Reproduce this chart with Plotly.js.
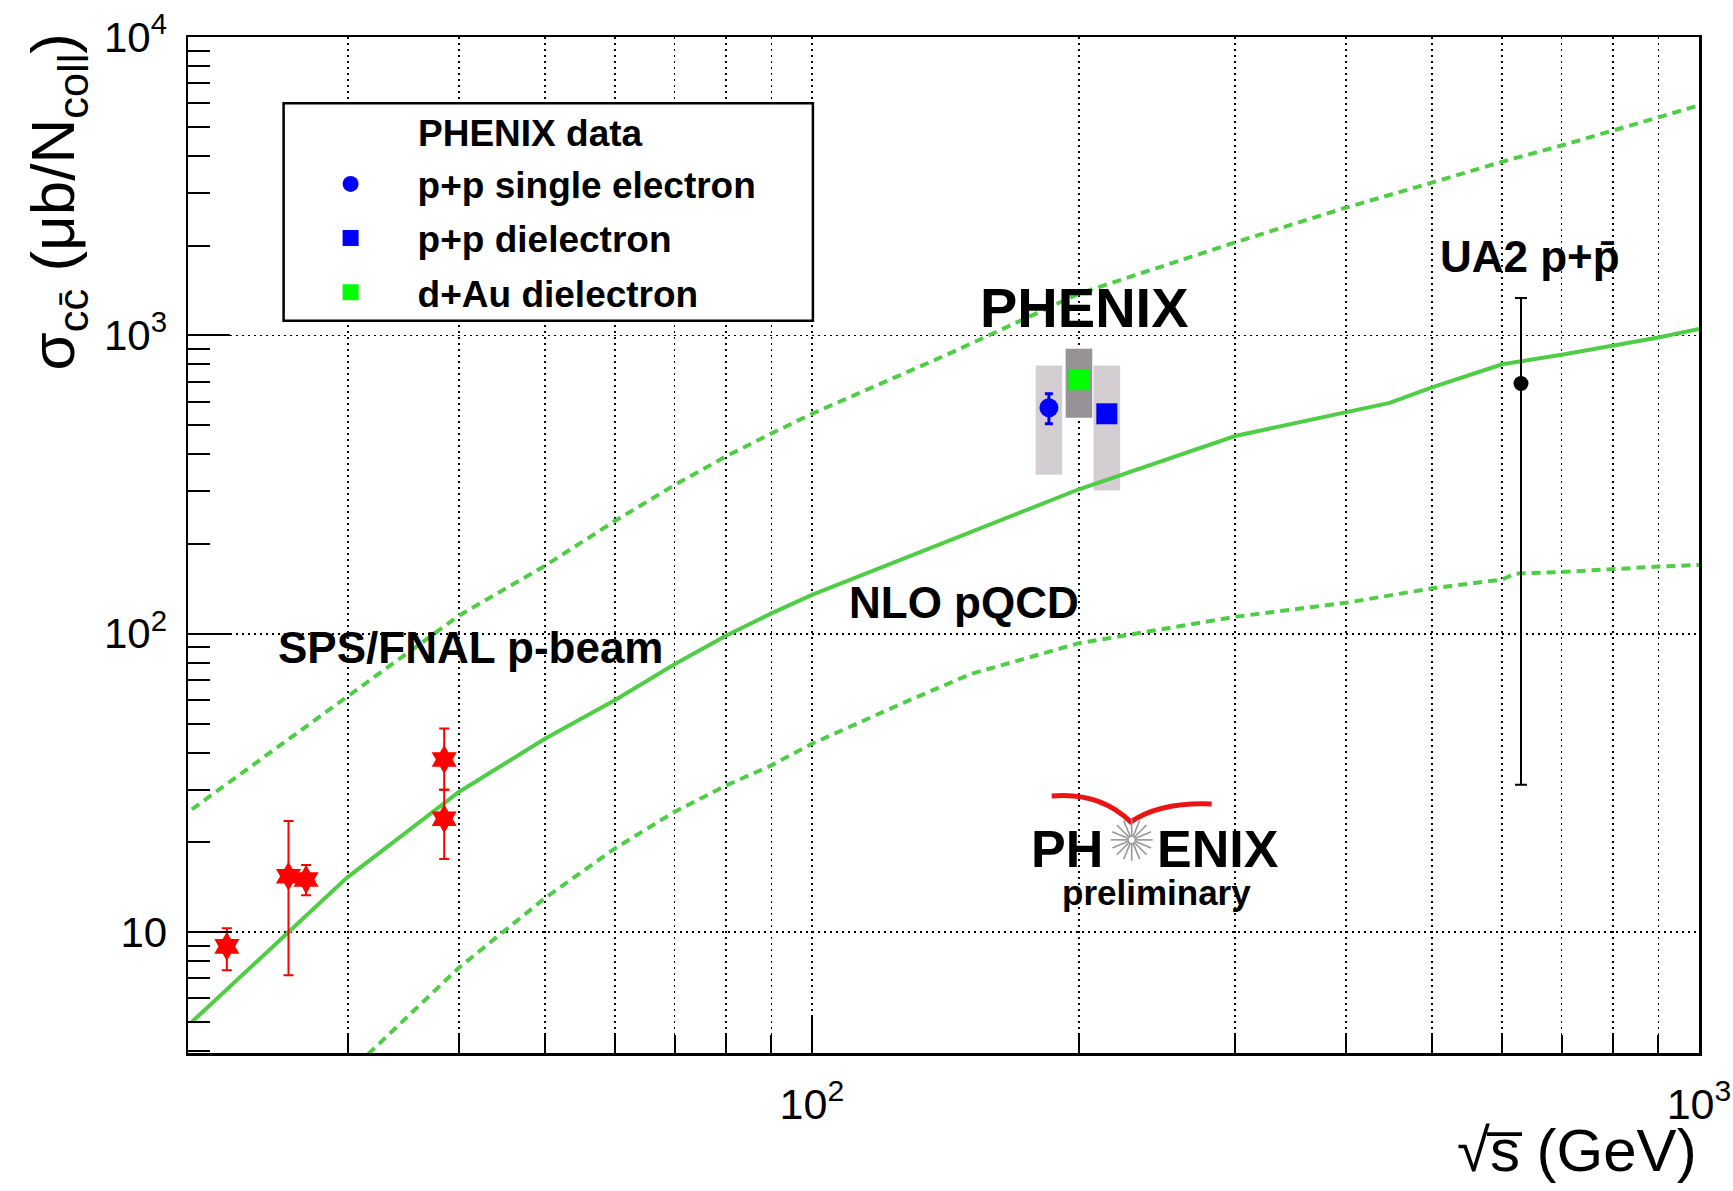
<!DOCTYPE html>
<html><head><meta charset="utf-8">
<script src="https://cdn.plot.ly/plotly-3.0.1.min.js"></script>
<style>html,body{margin:0;padding:0;background:#fff}#chart{width:1733px;height:1191px}</style>
</head><body><div id="chart"></div>
<script>
// ---- NLO pQCD curves ----
const nloX   = [20, 25.7, 29.9, 40, 50, 60, 70, 80, 90, 100, 143, 200, 300, 400, 448, 500, 600, 700, 800, 900, 1000];
const nloY   = [5.0, 10.0, 15.2, 29.5, 44.5, 60, 79, 98.5, 117, 135, 206, 305, 460, 555, 594, 670, 800, 861, 923, 984, 1051];
const nloUpX = [20, 30, 40, 50, 60, 70, 80, 90, 100, 143, 158, 200, 300, 400, 500, 600, 700, 800, 900, 1000];
const nloUpY = [25.8, 62, 115, 169, 239, 315, 393, 469, 546, 870, 1000, 1380, 2050, 2680, 3250, 3820, 4330, 4880, 5380, 5900];
const nloLoX = [31.6, 40, 50, 60, 70, 80, 90, 100, 127, 151, 200, 300, 400, 500, 600, 620, 700, 800, 900, 1000];
const nloLoY = [3.9, 7.6, 13.0, 19.1, 25.3, 31.0, 36.2, 42.8, 58.8, 73.3, 93, 114, 127, 142, 152, 159, 161, 165, 168, 170];

// ---- SPS/FNAL p-beam data ----
const spsX  = [21.9, 25.7, 26.9, 38.5, 38.5];
const spsY  = [8.96, 15.4, 15.0, 37.9, 24.0];
const spsHi = [10.3, 23.6, 16.8, 48.1, 30.0];
const spsLo = [7.45, 7.17, 13.3, 30.0, 17.6];

// ---- UA2 p+pbar ----
const ua2X = [630], ua2Y = [690], ua2Hi = [1335], ua2Lo = [31.2];

// ---- PHENIX ----
const seX = [185], seY = [572], seHi = [637], seLo = [506], seSysHi = [793], seSysLo = [341];
const deX = [215], deY = [546], deSysHi = [793], deSysLo = [302];
const daX = [200], daY = [710], daSysHi = [902], daSysLo = [530];

// ---- axis ticks ----
const xMajor = [100, 1000], xMajorText = ['10<sup>2</sup>', '10<sup>3</sup>'];
const xMinor = [30, 40, 50, 60, 70, 80, 90, 200, 300, 400, 500, 600, 700, 800, 900];
const yMajor = [10, 100, 1000, 10000], yMajorText = ['10', '10<sup>2</sup>', '10<sup>3</sup>', '10<sup>4</sup>'];
const yMinor = [4,5,6,7,8,9,20,30,40,50,60,70,80,90,200,300,400,500,600,700,800,900,2000,3000,4000,5000,6000,7000,8000,9000];

const boxHalf = Math.pow(10, 0.015);
function sysBox(x, lo, hi, color) {
  return {x: [x/boxHalf, x*boxHalf, x*boxHalf, x/boxHalf, x/boxHalf], y: [lo, lo, hi, hi, lo],
          type: 'scatter', mode: 'lines', fill: 'toself', fillcolor: color,
          line: {width: 0, color: color}, showlegend: false, hoverinfo: 'skip'};
}
function plus(v, hi) { return hi.map((h, i) => h - v[i]); }
function minus(v, lo) { return lo.map((l, i) => v[i] - l); }

const green = 'rgb(80,205,70)';
const FONT = '"Liberation Sans", Arial, Helvetica, sans-serif';

const traces = [
  sysBox(seX[0], seSysLo[0], seSysHi[0], 'rgb(212,206,210)'),
  sysBox(deX[0], deSysLo[0], deSysHi[0], 'rgb(212,206,210)'),
  sysBox(daX[0], daSysLo[0], daSysHi[0], 'rgb(150,146,150)'),
  {x: nloUpX, y: nloUpY, type: 'scatter', mode: 'lines', line: {color: green, width: 4, dash: '9px,6px'}, showlegend: false},
  {x: nloLoX, y: nloLoY, type: 'scatter', mode: 'lines', line: {color: green, width: 4, dash: '9px,6px'}, showlegend: false},
  {x: nloX, y: nloY, type: 'scatter', mode: 'lines', line: {color: green, width: 4}, showlegend: false},
  {x: spsX, y: spsY, type: 'scatter', mode: 'markers', showlegend: false,
   marker: {symbol: 'hexagram', size: 22, color: 'rgb(255,0,0)'},
   error_y: {type: 'data', symmetric: false, array: plus(spsY, spsHi), arrayminus: minus(spsY, spsLo), color: 'rgb(255,0,0)', thickness: 2, width: 5}},
  {x: ua2X, y: ua2Y, type: 'scatter', mode: 'markers', showlegend: false,
   marker: {symbol: 'circle', size: 15, color: 'black'},
   error_y: {type: 'data', symmetric: false, array: plus(ua2Y, ua2Hi), arrayminus: minus(ua2Y, ua2Lo), color: 'black', thickness: 2, width: 6}},
  {x: seX, y: seY, type: 'scatter', mode: 'markers', name: '<b>p+p single electron</b>', legendgroup: 'a',
   marker: {symbol: 'circle', size: 19, color: 'rgb(0,0,255)'},
   error_y: {type: 'data', symmetric: false, array: plus(seY, seHi), arrayminus: minus(seY, seLo), color: 'rgb(0,0,255)', thickness: 3, width: 4}},
  {x: deX, y: deY, type: 'scatter', mode: 'markers', name: '<b>p+p dielectron</b>', legendgroup: 'b',
   marker: {symbol: 'square', size: 21, color: 'rgb(0,0,255)'}},
  {x: daX, y: daY, type: 'scatter', mode: 'markers', name: '<b>d+Au dielectron</b>', legendgroup: 'c',
   marker: {symbol: 'square', size: 21, color: 'rgb(0,255,0)'}}
];

const L = 188, R = 1699, T = 36.5, B = 1053.3;
function px(x) { return (x - L) / (R - L); }
function py(y) { return (B - y) / (B - T); }

// decorative starburst of the PHENIX logo
const starShapes = [];
const sCx = 1131.7, sCy = 840, sR = 21, sR0 = 3;
for (let k = 0; k < 16; k++) {
  const a = k * Math.PI / 8;
  starShapes.push({type: 'line', xref: 'paper', yref: 'paper', layer: 'above',
    x0: px(sCx + sR0 * Math.cos(a)), y0: py(sCy + sR0 * Math.sin(a)),
    x1: px(sCx + sR * Math.cos(a)), y1: py(sCy + sR * Math.sin(a)),
    line: {color: 'rgb(150,150,150)', width: 1.6}});
}

const gridDash = '2px,4px';
const layout = {
  width: 1733, height: 1191,
  margin: {l: 188, r: 34, t: 37, b: 138, pad: 0},
  paper_bgcolor: 'white', plot_bgcolor: 'white',
  font: {family: FONT, color: 'black'},
  showlegend: true,
  hovermode: false,
  xaxis: {
    type: 'log', range: [Math.log10(19.8), 3],
    tickmode: 'array', tickvals: xMajor, ticktext: xMajorText,
    tickfont: {size: 43, family: FONT},
    ticks: 'inside', ticklen: 36, tickwidth: 2, tickcolor: 'black',
    ticklabelstandoff: 12,
    showgrid: true, gridcolor: 'black', gridwidth: 1.5, griddash: gridDash,
    minor: {tickmode: 'array', tickvals: xMinor, ticks: 'inside', ticklen: 18, tickwidth: 2, tickcolor: 'black',
            showgrid: true, gridcolor: 'black', gridwidth: 1.5, griddash: gridDash},
    showline: true, linecolor: 'black', linewidth: 2.5, mirror: true, zeroline: false
  },
  yaxis: {
    type: 'log', range: [0.595, 4],
    tickmode: 'array', tickvals: yMajor, ticktext: yMajorText,
    tickfont: {size: 42, family: FONT},
    ticks: 'inside', ticklen: 42, tickwidth: 2, tickcolor: 'black',
    ticklabelstandoff: 10,
    showgrid: true, gridcolor: 'black', gridwidth: 1.5, griddash: gridDash,
    minor: {tickmode: 'array', tickvals: yMinor, ticks: 'inside', ticklen: 22, tickwidth: 2, tickcolor: 'black', showgrid: false},
    showline: true, linecolor: 'black', linewidth: 2.5, mirror: true, zeroline: false
  },
  legend: {
    x: px(283.6), xanchor: 'left', y: py(153), yanchor: 'top',
    bgcolor: 'rgba(0,0,0,0)', borderwidth: 0,
    font: {size: 37, family: FONT, color: 'black'},
    itemwidth: 124, traceorder: 'grouped', tracegroupgap: 3, itemclick: false
  },
  shapes: [
    {type: 'rect', xref: 'paper', yref: 'paper', x0: px(283.6), x1: px(812.9), y0: py(320.5), y1: py(102.7),
     line: {color: 'black', width: 2.5}, fillcolor: 'white', layer: 'above'},
    {type: 'path', xref: 'paper', yref: 'paper', layer: 'above',
     path: 'M ' + px(1051.7) + ' ' + py(796) + ' Q ' + px(1100) + ' ' + py(792) + ' ' + px(1130.7) + ' ' + py(822) +
           ' Q ' + px(1160) + ' ' + py(802) + ' ' + px(1211.7) + ' ' + py(804),
     line: {color: 'rgb(235,20,20)', width: 5}}
  ].concat(starShapes),
  annotations: [
    {xref: 'paper', yref: 'paper', x: px(416), y: py(133), xanchor: 'left', yanchor: 'middle', showarrow: false,
     text: '<b>PHENIX data</b>', font: {size: 37, family: FONT}},
    {xref: 'paper', yref: 'paper', x: px(1084), y: py(307), xanchor: 'center', yanchor: 'middle', showarrow: false,
     text: '<b>PHENIX</b>', font: {size: 56, family: FONT}},
    {xref: 'paper', yref: 'paper', x: px(1530), y: py(256), xanchor: 'center', yanchor: 'middle', showarrow: false,
     text: '<b>UA2 p+p\u0304</b>', font: {size: 44, family: FONT}},
    {xref: 'paper', yref: 'paper', x: px(964), y: py(602), xanchor: 'center', yanchor: 'middle', showarrow: false,
     text: '<b>NLO pQCD</b>', font: {size: 44, family: FONT}},
    {xref: 'paper', yref: 'paper', x: px(470), y: py(647), xanchor: 'center', yanchor: 'middle', showarrow: false,
     text: '<b>SPS/FNAL p-beam</b>', font: {size: 44, family: FONT}},
    {xref: 'paper', yref: 'paper', x: px(1105), y: py(849), xanchor: 'right', yanchor: 'middle', showarrow: false,
     text: '<b>PH</b>', font: {size: 52, family: FONT}},
    {xref: 'paper', yref: 'paper', x: px(1155), y: py(849), xanchor: 'left', yanchor: 'middle', showarrow: false,
     text: '<b>ENIX</b>', font: {size: 52, family: FONT}},
    {xref: 'paper', yref: 'paper', x: px(1156), y: py(893), xanchor: 'center', yanchor: 'middle', showarrow: false,
     text: '<b>preliminary</b>', font: {size: 35, family: FONT}},
    {xref: 'paper', yref: 'paper', x: px(57), y: py(30), xanchor: 'center', yanchor: 'top', showarrow: false, textangle: -90,
     text: '\u03C3<sub>cc\u0304</sub> (\u03BCb/N<sub>coll</sub>)', font: {size: 62, family: FONT}},
    {xref: 'paper', yref: 'paper', x: 1, y: py(1151), xanchor: 'right', yanchor: 'middle', showarrow: false,
     text: '\u221As\u0305 (GeV)', font: {size: 60, family: FONT}}
  ]
};

Plotly.newPlot('chart', traces, layout, {displayModeBar: false, staticPlot: true});
</script>
</body></html>
